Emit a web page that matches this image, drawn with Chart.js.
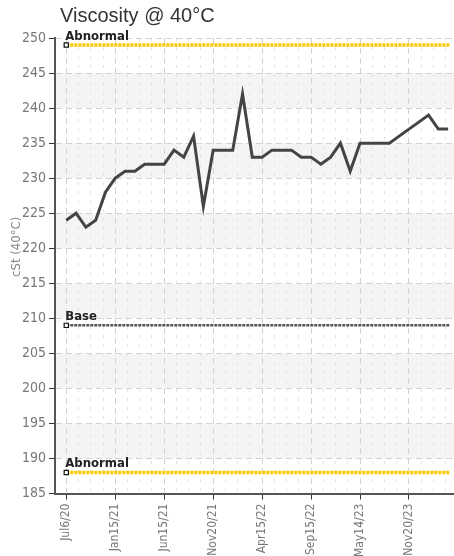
<!DOCTYPE html>
<html>
<head>
<meta charset="utf-8">
<script src="https://cdn.jsdelivr.net/npm/chart.js@4"></script>
<style>
  html, body { margin: 0; padding: 0; background: #fff; overflow: hidden; }
  canvas { display: block; }
</style>
</head>
<body>
<canvas id="viscChart" width="454" height="556"></canvas>
<script>
// Sample index of each labelled date on the x axis
const tickIdx = [0, 5, 10, 15, 20, 25, 30, 35];
const tickLabels = ['Jul6/20', 'Jan15/21', 'Jun15/21', 'Nov20/21', 'Apr15/22', 'Sep15/22', 'May14/23', 'Nov20/23'];

// Viscosity readings, one per sample (cSt @ 40°C)
const viscosity = [
  224, 225, 223, 224, 228, 230, 231, 231, 232, 232,
  232, 234, 233, 236, 226, 234, 234, 234, 242, 233,
  233, 234, 234, 234, 233, 233, 232, 233, 235, 231,
  235, 235, 235, 235, 236, 237, 238, 239, 237, 237
];

// Limit lines
const refNames = ['Abnormal', 'Base', 'Abnormal'];
const refValues = [249, 209, 188];
const refColors = ['#fcc800', '#555555', '#fcc800'];

const chartTitle = 'Viscosity @ 40°C';
const yTitle = 'cSt (40°C)';

const narrow = '"Liberation Sans Narrow", "DejaVu Sans Condensed", sans-serif';
const lastIdx = viscosity.length - 1;

// light gray bands every other 5 units
const bandPlugin = {
  id: 'bands',
  beforeDraw(chart) {
    const { ctx, chartArea, scales } = chart;
    ctx.save();
    ctx.fillStyle = '#f4f4f4';
    for (let v = 190; v < 250; v += 10) {
      const top = scales.y.getPixelForValue(v + 5);
      const bottom = scales.y.getPixelForValue(v);
      ctx.fillRect(chartArea.left, top, chartArea.right - chartArea.left, bottom - top);
    }
    ctx.restore();
  }
};

// chart title, y title and the names above each limit line
const textPlugin = {
  id: 'texts',
  afterDatasetsDraw(chart) {
    const { ctx, scales, chartArea } = chart;
    ctx.save();
    ctx.font = 'bold 13px ' + narrow;
    ctx.fillStyle = '#222';
    ctx.textBaseline = 'bottom';
    refNames.forEach((name, i) => {
      const x = scales.x.getPixelForValue(0) - 1;
      const y = scales.y.getPixelForValue(refValues[i]) - 2;
      ctx.fillText(name, x, y);
    });

    ctx.font = '20px "Liberation Sans", Arial, sans-serif';
    ctx.fillStyle = '#333';
    ctx.textBaseline = 'alphabetic';
    ctx.fillText(chartTitle, chartArea.left + 5, 22);

    ctx.translate(chartArea.left - 38, (chartArea.top + chartArea.bottom) / 2 - 19);
    ctx.rotate(-Math.PI / 2);
    ctx.font = '13px ' + narrow;
    ctx.fillStyle = '#888';
    ctx.textAlign = 'center';
    ctx.textBaseline = 'middle';
    ctx.fillText(yTitle, 0, 0);
    ctx.restore();
  }
};

const refSets = refNames.map((name, i) => ({
  label: name,
  data: [{ x: 0, y: refValues[i] }, { x: lastIdx + 0.2, y: refValues[i] }],
  borderColor: refColors[i],
  borderWidth: i === 1 ? 2.5 : 3.5,
  borderDash: [3, 1],
  pointStyle: 'rect',
  pointRadius: [3, 0],
  pointBorderColor: '#111',
  pointBackgroundColor: '#fff',
  pointBorderWidth: 1.2,
  order: 2
}));

const gridOpts = {
  color: '#d2d2d2',
  tickColor: '#333',
  tickLength: 6,
  tickBorderDash: []
};

new Chart(document.getElementById('viscChart'), {
  type: 'line',
  data: {
    datasets: [
      {
        label: 'Viscosity',
        data: viscosity.map((v, i) => ({ x: i, y: v })),
        borderColor: '#444',
        borderWidth: 3,
        pointRadius: 0,
        tension: 0,
        order: 1
      },
      ...refSets
    ]
  },
  plugins: [bandPlugin, textPlugin],
  options: {
    responsive: false,
    animation: false,
    layout: { autoPadding: false, padding: { left: 19, right: 0, top: 38, bottom: -5 } },
    plugins: {
      legend: { display: false },
      tooltip: { enabled: false },
      title: { display: false }
    },
    scales: {
      x: {
        type: 'linear',
        min: -1.15,
        max: lastIdx + 0.6,
        afterBuildTicks: (scale) => { scale.ticks = tickIdx.map(v => ({ value: v })); },
        afterFit: (scale) => { scale.paddingRight = 0; },
        ticks: {
          autoSkip: false,
          minRotation: 90,
          maxRotation: 90,
          color: '#777',
          font: { family: narrow, size: 12 },
          padding: 4,
          callback: (value) => tickLabels[tickIdx.indexOf(value)] || ''
        },
        grid: gridOpts,
        border: { display: true, color: '#555', width: 2, dash: [6, 4] }
      },
      xMinor: {
        type: 'linear',
        position: 'bottom',
        min: -1.15,
        max: lastIdx + 0.6,
        afterBuildTicks: (scale) => {
          const t = [];
          for (let v = 0; v <= lastIdx + 0.5; v += 1.25) {
            if (v % 5 !== 0) t.push({ value: v });
          }
          scale.ticks = t;
        },
        afterFit: (scale) => { scale.paddingRight = 0; scale.paddingLeft = 0; },
        ticks: { display: false },
        grid: { color: '#e2e2e2', drawTicks: false },
        border: { display: false, dash: [3, 6] }
      },
      y: {
        min: 185,
        max: 250,
        afterFit: (scale) => { scale.paddingTop = 0; },
        ticks: {
          stepSize: 5,
          color: '#777',
          font: { family: narrow, size: 14 },
          padding: 3
        },
        grid: gridOpts,
        border: { display: true, color: '#555', width: 2, dash: [6, 4] }
      }
    }
  }
});
</script>
</body>
</html>
